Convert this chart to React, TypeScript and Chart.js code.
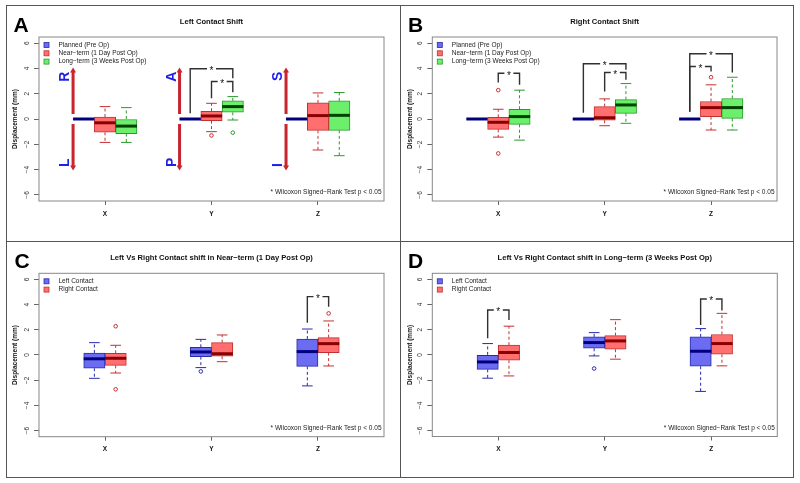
import React, { useEffect, useRef } from "react";
import { Chart, registerables } from "chart.js";

Chart.register(...registerables);

const FONT = "'Liberation Sans', Arial, Helvetica, sans-serif";
Chart.defaults.font.family = FONT;

// ---------------- data ----------------
const AXIS_LABELS = ["X", "Y", "Z"];
const AXIS_TICK_POS = [3, 8, 13];
const Y_TICKS = [-6, -4, -2, 0, 2, 4, 6];

// [lower whisker, Q1, median, Q3, upper whisker] for X, Y, Z
const PLANNED_STATS = [
  [0, 0, 0, 0, 0],
  [0, 0, 0, 0, 0],
  [0, 0, 0, 0, 0],
];
const PLANNED_OUTLIERS = [[], [], []];

const LEFT_NEAR_STATS = [
  [-1.85, -1.05, -0.3, 0.16, 0.98],
  [-1.0, -0.13, 0.24, 0.61, 1.24],
  [-2.45, -0.9, 0.27, 1.27, 2.06],
];
const LEFT_NEAR_OUTLIERS = [[], [-1.3], []];

const LEFT_LONG_STATS = [
  [-1.85, -1.15, -0.56, 0.0, 0.9],
  [-0.08, 0.53, 0.98, 1.43, 1.77],
  [-2.9, -0.9, 0.29, 1.43, 2.09],
];
const LEFT_LONG_OUTLIERS = [[], [-1.08], []];

const RIGHT_NEAR_STATS = [
  [-1.43, -0.82, -0.26, 0.13, 0.77],
  [-0.53, -0.1, 0.1, 0.98, 1.59],
  [-0.87, 0.19, 0.9, 1.38, 2.7],
];
const RIGHT_NEAR_OUTLIERS = [[2.28, -2.72], [], [3.3]];

const RIGHT_LONG_STATS = [
  [-1.67, -0.42, 0.19, 0.77, 2.28],
  [-0.34, 0.45, 1.11, 1.53, 2.8],
  [-0.87, 0.05, 0.9, 1.62, 3.3],
];
const RIGHT_LONG_OUTLIERS = [[], [], []];

const SHIFT_LABELS = ["Planned (Pre Op)", "Near\u2212term (1 Day Post Op)", "Long\u2212term (3 Weeks Post Op)"];
const SIDE_LABELS = ["Left Contact", "Right Contact"];
const PANEL_TITLES = [
  "Left Contact Shift",
  "Right Contact Shift",
  "Left Vs Right Contact shift in Near\u2212term (1 Day Post Op)",
  "Left Vs Right Contact shift in Long\u2212term (3 Weeks Post Op)",
];
const FOOTNOTE = "* Wilcoxon Signed\u2212Rank Test p < 0.05";
const Y_TITLE = "Displacement (mm)";
const DIRECTION_LETTERS = [["R", "L"], ["A", "P"], ["S", "I"]];
const ARROW_RANGE = [-4, 4];

// significance brackets: [group, fromBox, toBox, leftLegStart, rightLegEnd, top]
const BRACKETS_A = [[1, 0, 2, 0.45, 3.23, 3.97], [1, 1, 2, 1.64, 2.12, 2.96]];
const BRACKETS_B = [
  [0, 1, 2, 2.88, 2.7, 3.62],
  [1, 0, 2, 0.5, 3.89, 4.37],
  [1, 1, 2, 2.17, 3.1, 3.68],
  [2, 0, 2, 0.58, 3.68, 5.16],
  [2, 0, 1, 0.58, 3.76, 4.15],
];
const BRACKETS_C = [[2, 0, 1, 2.56, 3.83, 4.63]];
const BRACKETS_D = [[0, 0, 1, 1.32, 2.78, 3.57], [2, 0, 1, 2.38, 3.52, 4.44]];

// ---------------- styles ----------------
const BLUE = { fill: "#6c6cf2", border: "#2a2aa8", median: "#00007f" };
const RED = { fill: "#ff6f6f", border: "#c43030", median: "#8a0000" };
const GREEN = { fill: "#6cf06c", border: "#2a9a2a", median: "#004000" };
const ARROW_COLOR = "#c8252f";
const LETTER_COLOR = "#1f1fe6";

const PANELS = [
  {
    letter: "A", title: PANEL_TITLES[0], left: 0, top: 0, w: 400, h: 241,
    box: { l: 39, t: 37, r: 384, b: 201 }, yTitleX: 15, letterX: 13.5,
    series: [
      { label: SHIFT_LABELS[0], stats: PLANNED_STATS, out: PLANNED_OUTLIERS, style: BLUE, planned: true },
      { label: SHIFT_LABELS[1], stats: LEFT_NEAR_STATS, out: LEFT_NEAR_OUTLIERS, style: RED },
      { label: SHIFT_LABELS[2], stats: LEFT_LONG_STATS, out: LEFT_LONG_OUTLIERS, style: GREEN },
    ],
    brackets: BRACKETS_A, arrows: true,
  },
  {
    letter: "B", title: PANEL_TITLES[1], left: 400, top: 0, w: 400, h: 241,
    box: { l: 32.3, t: 37, r: 377, b: 201 }, yTitleX: 10, letterX: 8,
    series: [
      { label: SHIFT_LABELS[0], stats: PLANNED_STATS, out: PLANNED_OUTLIERS, style: BLUE, planned: true },
      { label: SHIFT_LABELS[1], stats: RIGHT_NEAR_STATS, out: RIGHT_NEAR_OUTLIERS, style: RED },
      { label: SHIFT_LABELS[2], stats: RIGHT_LONG_STATS, out: RIGHT_LONG_OUTLIERS, style: GREEN },
    ],
    brackets: BRACKETS_B, arrows: false,
  },
  {
    letter: "C", title: PANEL_TITLES[2], left: 0, top: 241, w: 400, h: 242,
    box: { l: 39, t: 32.3, r: 384, b: 195.7 }, yTitleX: 15, letterX: 14.5,
    series: [
      { label: SIDE_LABELS[0], stats: LEFT_NEAR_STATS, out: LEFT_NEAR_OUTLIERS, style: BLUE },
      { label: SIDE_LABELS[1], stats: RIGHT_NEAR_STATS, out: RIGHT_NEAR_OUTLIERS, style: RED },
    ],
    brackets: BRACKETS_C, arrows: false,
  },
  {
    letter: "D", title: PANEL_TITLES[3], left: 400, top: 241, w: 400, h: 242,
    box: { l: 32.3, t: 32.3, r: 377.3, b: 195.5 }, yTitleX: 10, letterX: 8,
    series: [
      { label: SIDE_LABELS[0], stats: LEFT_LONG_STATS, out: LEFT_LONG_OUTLIERS, style: BLUE },
      { label: SIDE_LABELS[1], stats: RIGHT_LONG_STATS, out: RIGHT_LONG_OUTLIERS, style: RED },
    ],
    brackets: BRACKETS_D, arrows: false,
  },
];

const X_MIN = -0.1;
const X_MAX = 16.1;
const boxPos = (n: number, g: number, i: number) => g * 5 + (n === 3 ? 2 : 2.5) + i;

function makePlugin(p: any) {
  const n = p.series.length;
  return {
    id: "rdecor" + p.letter,
    afterDatasetsDraw(chart: any) {
      const ctx = chart.ctx;
      const xs = chart.scales.x;
      const ys = chart.scales.y;
      const px = (v: number) => xs.getPixelForValue(v);
      const py = (v: number) => ys.getPixelForValue(v);
      ctx.save();
      // whiskers, caps, medians
      p.series.forEach((s: any, si: number) => {
        s.stats.forEach((st: number[], g: number) => {
          const pos = boxPos(n, g, si);
          const xc = px(pos);
          const half = (px(pos + 0.5) - px(pos - 0.5)) / 2;
          const cap = half * 0.5;
          const [lo, q1, med, q3, hi] = st;
          if (!s.planned) {
            ctx.strokeStyle = s.style.border;
            ctx.lineWidth = 1;
            ctx.setLineDash([3, 2.5]);
            ctx.beginPath();
            ctx.moveTo(xc, py(q3));
            ctx.lineTo(xc, py(hi));
            ctx.moveTo(xc, py(q1));
            ctx.lineTo(xc, py(lo));
            ctx.stroke();
            ctx.setLineDash([]);
            ctx.beginPath();
            ctx.moveTo(xc - cap, py(hi));
            ctx.lineTo(xc + cap, py(hi));
            ctx.moveTo(xc - cap, py(lo));
            ctx.lineTo(xc + cap, py(lo));
            ctx.stroke();
          }
          ctx.strokeStyle = s.style.median;
          ctx.lineWidth = 3;
          ctx.beginPath();
          ctx.moveTo(xc - half, py(med));
          ctx.lineTo(xc + half, py(med));
          ctx.stroke();
        });
      });
      // anatomical direction arrows
      if (p.arrows) {
        DIRECTION_LETTERS.forEach((pair, g) => {
          const xa = px(g * 5 + 1.5);
          const yTop = py(ARROW_RANGE[1]);
          const yBot = py(ARROW_RANGE[0]);
          ctx.strokeStyle = ARROW_COLOR;
          ctx.fillStyle = ARROW_COLOR;
          ctx.lineWidth = 3;
          ctx.beginPath();
          ctx.moveTo(xa, yTop + 3);
          ctx.lineTo(xa, py(0.4));
          ctx.moveTo(xa, py(-0.4));
          ctx.lineTo(xa, yBot - 3);
          ctx.stroke();
          ctx.beginPath();
          ctx.moveTo(xa, yTop - 1);
          ctx.lineTo(xa - 3, yTop + 4);
          ctx.lineTo(xa + 3, yTop + 4);
          ctx.closePath();
          ctx.fill();
          ctx.beginPath();
          ctx.moveTo(xa, yBot + 1);
          ctx.lineTo(xa - 3, yBot - 4);
          ctx.lineTo(xa + 3, yBot - 4);
          ctx.closePath();
          ctx.fill();
          ctx.fillStyle = LETTER_COLOR;
          ctx.font = `bold 14px ${FONT}`;
          ctx.textBaseline = "alphabetic";
          ctx.save();
          ctx.translate(xa - 4, py(3.75));
          ctx.rotate(-Math.PI / 2);
          ctx.textAlign = "right";
          ctx.fillText(pair[0], 0, 0);
          ctx.restore();
          ctx.save();
          ctx.translate(xa - 4, py(-3.79));
          ctx.rotate(-Math.PI / 2);
          ctx.textAlign = "left";
          ctx.fillText(pair[1], 0, 0);
          ctx.restore();
        });
      }
      // significance brackets
      p.brackets.forEach((br: number[]) => {
        const [g, a, b, y1, y2, yt] = br;
        const xa = px(boxPos(n, g, a));
        const xb = px(boxPos(n, g, b));
        const yT = py(yt);
        const xm = (xa + xb) / 2;
        ctx.strokeStyle = "#303030";
        ctx.lineWidth = 1.4;
        ctx.beginPath();
        ctx.moveTo(xa, py(y1));
        ctx.lineTo(xa, yT);
        ctx.lineTo(xm - 4.5, yT);
        ctx.moveTo(xm + 4.5, yT);
        ctx.lineTo(xb, yT);
        ctx.lineTo(xb, py(y2));
        ctx.stroke();
        ctx.fillStyle = "#111";
        ctx.font = `10px ${FONT}`;
        ctx.textAlign = "center";
        ctx.textBaseline = "alphabetic";
        ctx.fillText("*", xm, yT + 5.5);
      });
      ctx.restore();
    },
    afterDraw(chart: any) {
      const ctx = chart.ctx;
      const a = chart.chartArea;
      ctx.save();
      // plot frame
      ctx.strokeStyle = "#888";
      ctx.lineWidth = 1;
      ctx.strokeRect(a.left, a.top, a.right - a.left, a.bottom - a.top);
      // title
      ctx.fillStyle = "#111";
      ctx.font = `bold 7.6px ${FONT}`;
      ctx.textAlign = "center";
      ctx.textBaseline = "middle";
      ctx.fillText(p.title, (a.left + a.right) / 2, a.top - 15.5);
      // panel letter
      ctx.fillStyle = "#000";
      ctx.font = `bold 21px ${FONT}`;
      ctx.textAlign = "left";
      ctx.textBaseline = "alphabetic";
      ctx.fillText(p.letter, p.letterX, a.top - 5);
      // legend
      p.series.forEach((s: any, i: number) => {
        const y = a.top + 8 + i * 8.3;
        const sx = a.left + 5;
        ctx.fillStyle = s.style.fill;
        ctx.fillRect(sx, y - 2.5, 5, 5);
        ctx.strokeStyle = s.style.border;
        ctx.lineWidth = 0.8;
        ctx.strokeRect(sx, y - 2.5, 5, 5);
        ctx.fillStyle = "#222";
        ctx.font = `6.5px ${FONT}`;
        ctx.textAlign = "left";
        ctx.textBaseline = "middle";
        ctx.fillText(s.label, a.left + 19.5, y);
      });
      // footnote
      ctx.fillStyle = "#222";
      ctx.font = `6.5px ${FONT}`;
      ctx.textAlign = "right";
      ctx.textBaseline = "middle";
      ctx.fillText(FOOTNOTE, a.right - 2.5, a.bottom - 8.3);
      ctx.restore();
    },
  };
}

function buildConfig(p: any) {
  const n = p.series.length;
  const datasets: any[] = [];
  p.series.forEach((s: any, si: number) => {
    datasets.push({
      type: "bar",
      label: s.label,
      data: s.stats.map((st: number[], g: number) => ({ x: boxPos(n, g, si), y: [st[1], st[3]] })),
      backgroundColor: s.style.fill,
      borderColor: s.style.border,
      borderWidth: s.planned ? 0 : 1,
      borderSkipped: false,
      grouped: false,
      barPercentage: 1,
      categoryPercentage: 1,
    });
  });
  p.series.forEach((s: any, si: number) => {
    const pts: any[] = [];
    s.out.forEach((arr: number[], g: number) => arr.forEach((v) => pts.push({ x: boxPos(n, g, si), y: v })));
    if (pts.length) {
      datasets.push({
        type: "scatter",
        label: s.label + " outliers",
        data: pts,
        pointStyle: "circle",
        pointRadius: 1.8,
        pointBorderWidth: 1,
        borderColor: s.style.border,
        backgroundColor: "rgba(0,0,0,0)",
        showLine: false,
      });
    }
  });

  const lh = 6.5 * 1.2;
  const padLeft = p.yTitleX - lh / 2;
  const yWidth = p.box.l - padLeft;
  const xHeight = 20;

  return {
    type: "bar",
    data: { datasets },
    options: {
      animation: false,
      responsive: false,
      devicePixelRatio: 1,
      events: [],
      layout: {
        padding: { left: padLeft, top: p.box.t, right: p.w - p.box.r, bottom: p.h - p.box.b - xHeight },
      },
      plugins: { legend: { display: false }, tooltip: { enabled: false }, title: { display: false } },
      scales: {
        x: {
          type: "linear",
          min: X_MIN,
          max: X_MAX,
          bounds: "data",
          offset: false,
          afterBuildTicks: (s: any) => {
            s.ticks = AXIS_TICK_POS.map((v) => ({ value: v }));
          },
          afterFit: (s: any) => {
            s.height = xHeight;
          },
          ticks: {
            autoSkip: false,
            minRotation: 0,
            maxRotation: 0,
            padding: 5,
            color: "#111",
            font: { size: 6.5, weight: "bold", family: FONT },
            callback: (v: any) => {
              const i = AXIS_TICK_POS.indexOf(Number(v));
              return i >= 0 ? AXIS_LABELS[i] : "";
            },
          },
          grid: { drawOnChartArea: false, drawTicks: true, tickLength: 4, color: "#666", offset: false },
          border: { display: false },
        },
        y: {
          type: "linear",
          min: -6.48,
          max: 6.48,
          bounds: "data",
          afterBuildTicks: (s: any) => {
            s.ticks = Y_TICKS.map((v) => ({ value: v }));
          },
          afterFit: (s: any) => {
            s.width = yWidth;
          },
          ticks: {
            autoSkip: false,
            minRotation: 90,
            maxRotation: 90,
            crossAlign: "center",
            padding: 3,
            color: "#333",
            font: { size: 6.5, family: FONT },
            callback: (v: any) => (Number(v) < 0 ? "\u2212" + Math.abs(Number(v)) : String(v)),
          },
          grid: { drawOnChartArea: false, drawTicks: true, tickLength: 5, color: "#666" },
          border: { display: false },
          title: {
            display: true,
            text: Y_TITLE,
            color: "#111",
            padding: 0,
            font: { size: 6.5, weight: "bold", family: FONT, lineHeight: 1.2 },
          },
        },
      },
    },
    plugins: [makePlugin(p)],
  };
}

function Panel({ p }: { p: any }) {
  const ref = useRef<HTMLCanvasElement | null>(null);
  useEffect(() => {
    if (!ref.current) return;
    const chart = new Chart(ref.current, buildConfig(p) as any);
    return () => chart.destroy();
  }, [p]);
  return (
    <canvas
      ref={ref}
      width={p.w}
      height={p.h}
      style={{ position: "absolute", left: p.left, top: p.top, width: p.w, height: p.h }}
    />
  );
}

export default function App() {
  return (
    <div style={{ position: "absolute", left: 0, top: 0, width: 800, height: 483, background: "#fff", overflow: "hidden" }}>
      {PANELS.map((p) => (
        <Panel key={p.letter} p={p} />
      ))}
      <div style={{ position: "absolute", left: 6, top: 5, width: 786, height: 471, border: "1px solid #555" }} />
      <div style={{ position: "absolute", left: 400, top: 5, width: 1, height: 472, background: "#555" }} />
      <div style={{ position: "absolute", left: 6, top: 241, width: 788, height: 1, background: "#555" }} />
    </div>
  );
}
